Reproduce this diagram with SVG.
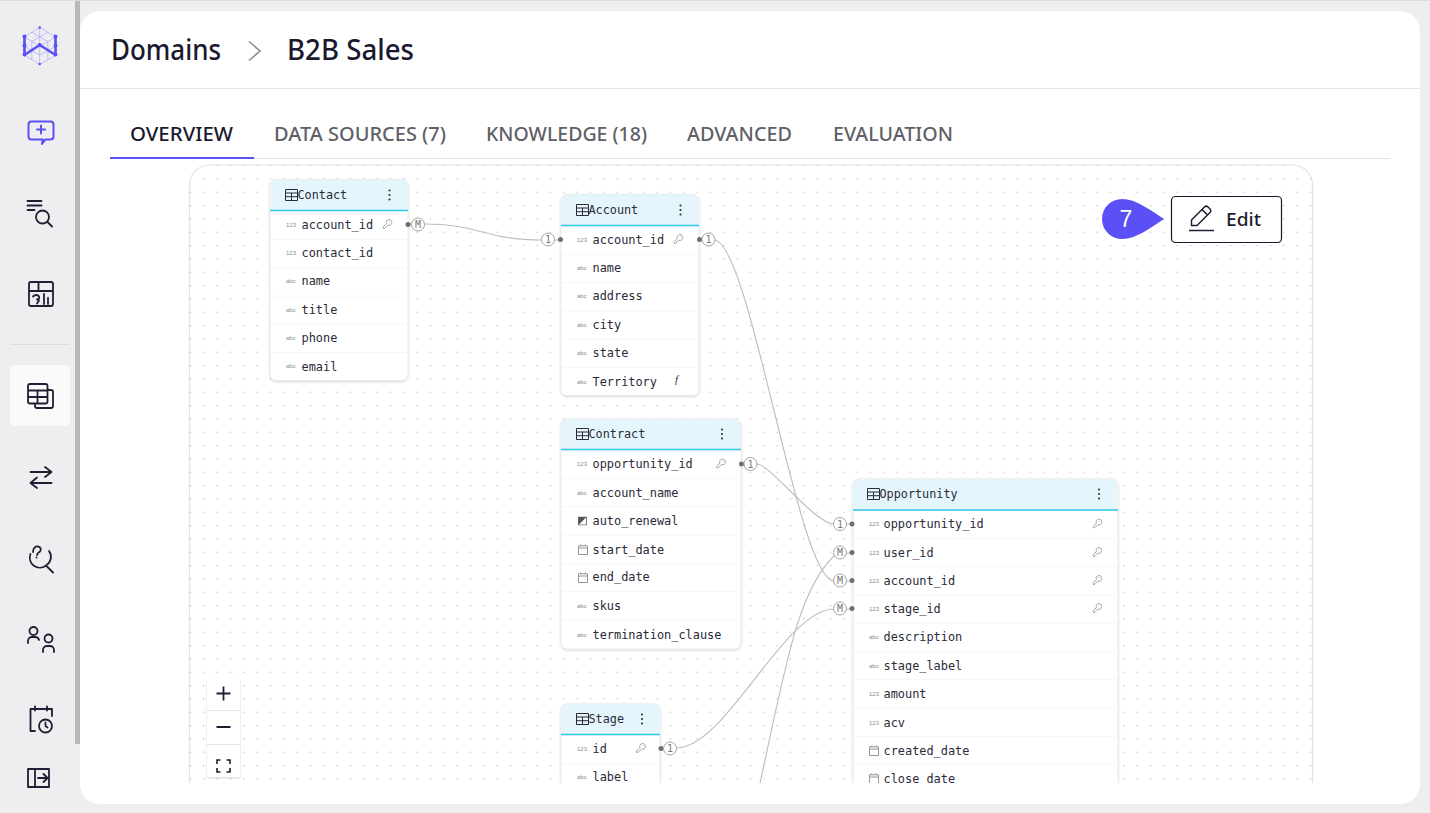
<svg xmlns="http://www.w3.org/2000/svg" xmlns:xlink="http://www.w3.org/1999/xlink" width="1430" height="813" viewBox="0 0 1430 813">
<style>
.h1{font-family:"Noto Sans","Liberation Sans",sans-serif;font-size:28px;font-weight:500;fill:#1a1a2e}
.tab{font-family:"Noto Sans","Liberation Sans",sans-serif;font-size:20px;font-weight:500;fill:#5f5f68}
.ttl{font-family:"DejaVu Sans Mono","Liberation Mono",monospace;font-size:11.8px;fill:#2a2a38}
.row{font-family:"DejaVu Sans Mono","Liberation Mono",monospace;font-size:11.9px;fill:#2a2a38}
.ty{font-family:"Liberation Sans",sans-serif;font-size:6px;fill:#8a8a8a}
.card{fill:#fff;stroke:#e8e8e8;filter:url(#sh)}
.head{fill:#e4f6fc}
.hl{stroke:#2cc6e8;stroke-width:1.500}
.div{stroke:#f6f6f6}
.ic{fill:none;stroke:#1f1f33;stroke-width:1.800;stroke-linecap:round;stroke-linejoin:round}
.pu{fill:none;stroke:#5b50f6;stroke-width:2;stroke-linecap:round;stroke-linejoin:round}
.conn{fill:none;stroke:#bdbdbd;stroke-width:1.100}
.cir{fill:#fff;stroke:#9a9a9a;stroke-width:.9}
.lab{font-family:"DejaVu Sans Mono","Liberation Mono",monospace;font-size:10px;fill:#777;text-anchor:middle}
.dot{fill:#6f6f6f}
</style>
<defs>
<pattern id="dots" x="190" y="165" width="13.333" height="13.333" patternUnits="userSpaceOnUse"><rect x="0" y="0" width="1" height="1" fill="#a0a0a0"/></pattern>
<filter id="sh" x="-10%" y="-10%" width="120%" height="120%"><feDropShadow dx="0" dy="1" stdDeviation="1.200" flood-color="#000" flood-opacity=".16"/></filter>
<clipPath id="cv"><rect x="189" y="165" width="1124" height="618"/></clipPath>
<symbol id="tbl" width="13" height="12" viewBox="0 0 13 12" overflow="visible"><path d="M.5.5h12v11H.5zM.5 4h12M.5 7.700h12M6.500 4v7.500" fill="none" stroke="#2a2a38" stroke-width="1"/></symbol>
<symbol id="keb" width="4" height="12" viewBox="0 0 4 12"><circle cx="2" cy="1.500" r="1.100" fill="#333"/><circle cx="2" cy="6" r="1.100" fill="#333"/><circle cx="2" cy="10.500" r="1.100" fill="#333"/></symbol>
<symbol id="key" width="10" height="10" viewBox="0 0 10 10"><path d="M.6 7.900L.6 9.400 2.100 9.400 5.400 6.100A2.900 2.900 0 1 0 3.900 4.600zM6.800 2.500h.6" fill="none" stroke="#9a9a9a" stroke-width=".9"/></symbol>
<symbol id="cal" width="10" height="11" viewBox="0 0 10 11"><path d="M.5 1.800h9v8.700h-9zM.5 4h9M2.700.5v1.500M7.300.5v1.500" fill="none" stroke="#8a8a8a" stroke-width=".9"/></symbol>
<symbol id="bool" width="9" height="9" viewBox="0 0 9 9"><rect x=".5" y=".5" width="8" height="8" fill="#fff" stroke="#777"/><path d="M.5.5h8l-8 8z" fill="#555"/></symbol>
</defs>

<rect width="1430" height="813" fill="#eeeef1"/>
<rect width="1430" height="1" fill="#dcdcdf"/>
<rect x="75" y="1" width="5" height="743" fill="#b9b9b9"/>
<rect x="80" y="11" width="1340" height="793" rx="20" fill="#fff"/>

<g id="sidebar">
<g id="logo" fill="none">
<path d="M39.700 27.500L56 37v18l-16.300 9.500L24 55V37zM24 37l32 18M56 37L24 55M39.700 27.500v37M31.800 32.200l16 9.300v18M47.800 32.200l-16 9.300v18M24 46l15.700 9M56 46l-16.300 9" stroke="#b3aefa" stroke-width=".8"/>
<path d="M24.500 36v19l7.500-5 7.700-5 8 5 7.800 5V36" stroke="#5b50f6" stroke-width="2.600" stroke-linejoin="round"/>
<g fill="#5b50f6"><circle cx="24.500" cy="36.500" r="2"/><circle cx="24.500" cy="45.500" r="2"/><circle cx="24.500" cy="54.500" r="2"/><circle cx="55.500" cy="36.500" r="2"/><circle cx="55.500" cy="45.500" r="2"/><circle cx="55.500" cy="54.500" r="2"/><circle cx="39.700" cy="45" r="2"/><circle cx="39.700" cy="27.500" r="1.200"/><circle cx="39.700" cy="64" r="1.200"/></g>
</g>
<g id="i-chat"><path class="pu" d="M31.500 121.500h19a3 3 0 0 1 3 3v12a3 3 0 0 1-3 3h-5l-3.500 4.500v-.5l1-4h-11.500a3 3 0 0 1-3-3v-12a3 3 0 0 1 3-3zM41 125.500v8M37 129.500h8"/></g>
<g id="i-search"><path class="ic" d="M27.500 201h14M27.500 205.500h14M27.500 210h7"/><circle class="ic" cx="42.500" cy="217" r="6.500" stroke-width="2"/><path class="ic" d="M47.500 222l4.500 4.500"/></g>
<g id="i-chart"><path class="ic" d="M31 282h20a2 2 0 0 1 2 2v20a2 2 0 0 1-2 2H31a2 2 0 0 1-2-2v-20a2 2 0 0 1 2-2zM29 291h24M38.500 282v9M33 296.500c2-2 5-2 6 0 1 2-1 3-2 3l2 1-2 3M44 294v10M48 298v6"/></g>
<rect x="10" y="344" width="60" height="1" fill="#dcdce0"/>
<rect x="10" y="365" width="60" height="61" rx="4" fill="#fafafa"/>
<g id="i-tables"><path class="ic" d="M30 384h15.500a2 2 0 0 1 2 2v15.500a2 2 0 0 1-2 2H30a2 2 0 0 1-2-2V386a2 2 0 0 1 2-2zM28 390.500h19.500M28 397h19.500M37.500 390.500v13M47.500 390h3.500a2 2 0 0 1 2 2v14a2 2 0 0 1-2 2H37a2 2 0 0 1-2-2v-2.500"/></g>
<g id="i-swap"><path class="ic" d="M30.500 472h21M45 467l6.500 5-6.500 5M51.500 483h-21M37 477.500l-6.500 5.500 6.500 5"/></g>
<g id="i-ask"><path class="ic" d="M30.500 554a10 10 0 0 0 15.500 11.500 10 10 0 0 0 3-14.500M46 565.500l7 7M33 552c0-4 2.500-6 5-5.500 3 .5 3.500 3.500 2 5-1.500 1-3 2-3 3.500"/><circle cx="36.500" cy="557.500" r="1" fill="#1f1f33"/></g>
<g id="i-people"><circle class="ic" cx="33.500" cy="631" r="4"/><path class="ic" d="M28 643v-2a4 4 0 0 1 4-4h3a4 4 0 0 1 4 3"/><circle class="ic" cx="48.500" cy="638.500" r="4"/><path class="ic" d="M43 652v-2a4 4 0 0 1 4-4h3a4 4 0 0 1 4 4v2"/></g>
<g id="i-cal"><path class="ic" d="M35 731h-4.500v-22h21.500v7M35 706.500v4M47 706.500v4"/><circle class="ic" cx="45.500" cy="726" r="6.500"/><path class="ic" d="M45.500 722.500v3.500l2 1.500"/></g>
<g id="i-collapse"><path class="ic" d="M28 769h21v18H28zM35 769v18M38 778h9M43.500 774l4 4-4 4"/></g>
</g>

<g id="header">
<text class="h1" x="111" y="60" textLength="110" lengthAdjust="spacingAndGlyphs">Domains</text>
<path d="M249 41.500l11 9.500-11 9.500" fill="none" stroke="#8c8c96" stroke-width="1.600"/>
<text class="h1" x="287" y="60" textLength="127" lengthAdjust="spacingAndGlyphs">B2B Sales</text>
<rect x="80" y="88" width="1340" height="1" fill="#e4e4e6"/>
</g>
<g id="tabs">
<text class="tab" x="130" y="141" textLength="103" lengthAdjust="spacingAndGlyphs" style="fill:#1a1a2e">OVERVIEW</text>
<text class="tab" x="274" y="141" textLength="172" lengthAdjust="spacingAndGlyphs">DATA SOURCES (7)</text>
<text class="tab" x="486" y="141" textLength="161" lengthAdjust="spacingAndGlyphs">KNOWLEDGE (18)</text>
<text class="tab" x="687" y="141" textLength="105" lengthAdjust="spacingAndGlyphs">ADVANCED</text>
<text class="tab" x="833" y="141" textLength="120" lengthAdjust="spacingAndGlyphs">EVALUATION</text>
<rect x="110" y="158" width="1280" height="1" fill="#e2e2e4"/>
<rect x="110" y="157" width="144" height="2" fill="#5b50f6"/>
</g>

<g id="canvas">
<rect x="189" y="165" width="1124" height="640" rx="20" fill="url(#dots)" clip-path="url(#cv)"/>
<path d="M189.500 783V185a20 20 0 0 1 20-20h1083a20 20 0 0 1 20 20v598" fill="none" stroke="#e2e2e2" stroke-width="1.200"/>
</g>

<g id="connectors" clip-path="url(#cv)">
<path class="conn" d="M424 224C480 224 485 240 542 240"/>
<path class="conn" d="M714 240C750 240 798 581 834 581"/>
<path class="conn" d="M757 464C770 464 815 524 834 524"/>
<path class="conn" d="M677 748C725 748 785 609 834 609"/>
<path class="conn" d="M757 797C785 670 797 590 835 555"/>
<path class="conn" d="M408 224h4M554 240h6M700 240h3M742 464h4M661 748h4M846 524h6M846 553h6M846 581h6M846 609h6"/>
</g>

<g id="node-contact">
<rect class="card" x="270" y="179.500" width="138" height="201" rx="6"/>
<path class="head" d="M270.500 210v-24.500a6 6 0 0 1 6-6h125.500a6 6 0 0 1 6 6V210z"/>
<path class="hl" d="M270 210.500h138"/>
<path class="div" d="M271 239.500h136M271 267.500h136M271 296h136M271 324h136M271 352.500h136"/>
<use xlink:href="#tbl" href="#tbl" x="285" y="189"/><text class="ttl" x="297.500" y="199">Contact</text><use xlink:href="#keb" href="#keb" x="387.500" y="189"/>
<text class="ty" x="286" y="227">123</text><text class="row" x="301.500" y="229">account_id</text><use xlink:href="#key" href="#key" x="382.500" y="219"/>
<text class="ty" x="286" y="255">123</text><text class="row" x="301.500" y="257">contact_id</text>
<text class="ty" x="286" y="283">abc</text><text class="row" x="301.500" y="285">name</text>
<text class="ty" x="286" y="312">abc</text><text class="row" x="301.500" y="314">title</text>
<text class="ty" x="286" y="340">abc</text><text class="row" x="301.500" y="342">phone</text>
<text class="ty" x="286" y="368">abc</text><text class="row" x="301.500" y="371">email</text>
</g>

<g id="node-account">
<rect class="card" x="561" y="194.500" width="138" height="201" rx="6"/>
<path class="head" d="M561.500 225v-24.500a6 6 0 0 1 6-6H692.500a6 6 0 0 1 6 6V225z"/>
<path class="hl" d="M561 225.500h138"/>
<path class="div" d="M562 254.500h136M562 282.500h136M562 311h136M562 339h136M562 367.500h136"/>
<use xlink:href="#tbl" href="#tbl" x="576" y="204"/><text class="ttl" x="588.500" y="214">Account</text><use xlink:href="#keb" href="#keb" x="678.500" y="204"/>
<text class="ty" x="577" y="242">123</text><text class="row" x="592.500" y="244">account_id</text><use xlink:href="#key" href="#key" x="673.500" y="234"/>
<text class="ty" x="577" y="270">abc</text><text class="row" x="592.500" y="272">name</text>
<text class="ty" x="577" y="298">abc</text><text class="row" x="592.500" y="300">address</text>
<text class="ty" x="577" y="327">abc</text><text class="row" x="592.500" y="329">city</text>
<text class="ty" x="577" y="355">abc</text><text class="row" x="592.500" y="357">state</text>
<text class="ty" x="577" y="384">abc</text><text class="row" x="592.500" y="386">Territory</text>
<text x="675" y="383" font-family="Liberation Serif,serif" font-style="italic" font-size="11" fill="#333">f</text>
</g>

<g id="node-contract">
<rect class="card" x="561" y="419" width="180" height="230" rx="6"/>
<path class="head" d="M561.500 449v-24a6 6 0 0 1 6-6H734.500a6 6 0 0 1 6 6V449z"/>
<path class="hl" d="M561 449.500h180"/>
<path class="div" d="M562 478.500h178M562 506.500h178M562 535h178M562 563.500h178M562 591.500h178M562 620h178"/>
<use xlink:href="#tbl" href="#tbl" x="576" y="428"/><text class="ttl" x="588.500" y="438">Contract</text><use xlink:href="#keb" href="#keb" x="720" y="428"/>
<text class="ty" x="577" y="466">123</text><text class="row" x="592.500" y="468">opportunity_id</text><use xlink:href="#key" href="#key" x="716" y="458.500"/>
<text class="ty" x="577" y="495">abc</text><text class="row" x="592.500" y="497">account_name</text>
<use xlink:href="#bool" href="#bool" x="578" y="516.500"/><text class="row" x="592.500" y="525">auto_renewal</text>
<use xlink:href="#cal" href="#cal" x="578" y="544"/><text class="row" x="592.500" y="554">start_date</text>
<use xlink:href="#cal" href="#cal" x="578" y="572"/><text class="row" x="592.500" y="581">end_date</text>
<text class="ty" x="577" y="608">abc</text><text class="row" x="592.500" y="610">skus</text>
<text class="ty" x="577" y="637">abc</text><text class="row" x="592.500" y="639">termination_clause</text>
</g>

<g id="node-stage" clip-path="url(#cv)">
<rect class="card" x="561" y="704" width="99" height="120" rx="6"/>
<path class="head" d="M561.500 734v-24a6 6 0 0 1 6-6H653.500a6 6 0 0 1 6 6V734z"/>
<path class="hl" d="M561 734.500h99"/>
<path class="div" d="M562 763.500h97"/>
<use xlink:href="#tbl" href="#tbl" x="576" y="713"/><text class="ttl" x="588.500" y="723">Stage</text><use xlink:href="#keb" href="#keb" x="640" y="713"/>
<text class="ty" x="577" y="751">123</text><text class="row" x="592.500" y="753">id</text><use xlink:href="#key" href="#key" x="636" y="743"/>
<text class="ty" x="577" y="779">abc</text><text class="row" x="592.500" y="781">label</text>
</g>

<g id="node-opportunity" clip-path="url(#cv)">
<rect class="card" x="853" y="479" width="265" height="340" rx="6"/>
<path class="head" d="M853.500 509.500v-24.500a6 6 0 0 1 6-6H1111.500a6 6 0 0 1 6 6V509.500z"/>
<path class="hl" d="M853 510h265"/>
<path class="div" d="M854 538.500h263M854 566.500h263M854 595h263M854 623h263M854 651.500h263M854 679.500h263M854 708.500h263M854 736.500h263M854 764.500h263"/>
<use xlink:href="#tbl" href="#tbl" x="867" y="488"/><text class="ttl" x="879.500" y="498">Opportunity</text><use xlink:href="#keb" href="#keb" x="1097" y="488"/>
<text class="ty" x="869" y="526">123</text><text class="row" x="883.500" y="528">opportunity_id</text><use xlink:href="#key" href="#key" x="1092.500" y="518.500"/>
<text class="ty" x="869" y="555">123</text><text class="row" x="883.500" y="557">user_id</text><use xlink:href="#key" href="#key" x="1092.500" y="547"/>
<text class="ty" x="869" y="583">123</text><text class="row" x="883.500" y="585">account_id</text><use xlink:href="#key" href="#key" x="1092.500" y="575"/>
<text class="ty" x="869" y="611">123</text><text class="row" x="883.500" y="613">stage_id</text><use xlink:href="#key" href="#key" x="1092.500" y="603"/>
<text class="ty" x="869" y="639">abc</text><text class="row" x="883.500" y="641">description</text>
<text class="ty" x="869" y="668">abc</text><text class="row" x="883.500" y="670">stage_label</text>
<text class="ty" x="869" y="696">123</text><text class="row" x="883.500" y="698">amount</text>
<text class="ty" x="869" y="725">123</text><text class="row" x="883.500" y="727">acv</text>
<use xlink:href="#cal" href="#cal" x="869" y="745"/><text class="row" x="883.500" y="755">created_date</text>
<use xlink:href="#cal" href="#cal" x="869" y="773"/><text class="row" x="883.500" y="783">close_date</text>
</g>

<g id="ends">
<g><circle class="dot" cx="408" cy="224.500" r="2.500"/><circle class="cir" cx="418" cy="224.500" r="6.500"/><text class="lab" x="418" y="228">M</text></g>
<g><circle class="dot" cx="560.500" cy="239.500" r="2.500"/><circle class="cir" cx="548" cy="239.500" r="6.500"/><text class="lab" x="548" y="243">1</text></g>
<g><circle class="dot" cx="699.500" cy="239.500" r="2.500"/><circle class="cir" cx="708.500" cy="239.500" r="6.500"/><text class="lab" x="708.500" y="243">1</text></g>
<g><circle class="dot" cx="741.500" cy="464" r="2.500"/><circle class="cir" cx="750.500" cy="464" r="6.500"/><text class="lab" x="750.500" y="467.500">1</text></g>
<g><circle class="dot" cx="661" cy="748.500" r="2.500"/><circle class="cir" cx="670" cy="748.500" r="6.500"/><text class="lab" x="670" y="752">1</text></g>
<g><circle class="dot" cx="852" cy="524" r="2.500"/><circle class="cir" cx="840" cy="524" r="6.500"/><text class="lab" x="840" y="527.500">1</text></g>
<g><circle class="dot" cx="852" cy="552.500" r="2.500"/><circle class="cir" cx="840" cy="552.500" r="6.500"/><text class="lab" x="840" y="556">M</text></g>
<g><circle class="dot" cx="852" cy="580.500" r="2.500"/><circle class="cir" cx="840" cy="580.500" r="6.500"/><text class="lab" x="840" y="584">M</text></g>
<g><circle class="dot" cx="852" cy="608.500" r="2.500"/><circle class="cir" cx="840" cy="608.500" r="6.500"/><text class="lab" x="840" y="612">M</text></g>
</g>

<g id="zoom-controls">
<rect x="207" y="678" width="33" height="99" fill="#fff" filter="url(#sh)"/>
<path d="M207 710.500h33M207 744.500h33" stroke="#e6e6e6"/>
<path d="M216.500 693.500h14M223.500 686.500v14M216.500 727h14" fill="none" stroke="#1f1f33" stroke-width="1.800"/>
<path d="M217 764v-4h3.500M230 764v-4h-3.500M217 768v4h3.500M230 768v4h-3.500" fill="none" stroke="#1f1f33" stroke-width="1.600"/>
</g>

<g id="badge">
<path d="M1122 199c14 0 28 11 42 20-14 9-28 20-42 20a20 20 0 0 1 0-40z" fill="#5b50f6"/>
<text x="1126" y="227" font-family="Liberation Sans,sans-serif" font-size="23" fill="#fff" text-anchor="middle">7</text>
</g>
<g id="edit">
<rect x="1171.500" y="196.500" width="110" height="46" rx="4" fill="#fff" stroke="#1a1a2e" stroke-width="1.200"/>
<path d="M1189 230.500h25M1191.500 225.500v-5.500l13-13c1-1 2.500-1 3.500 0l2 2c1 1 1 2.500 0 3.500l-13 13zM1202 209.500l6 6" fill="none" stroke="#1f1f33" stroke-width="1.500" stroke-linejoin="round"/>
<text x="1226" y="226" font-family="Noto Sans,Liberation Sans,sans-serif" font-size="18" font-weight="500" fill="#1f1f33" textLength="35" lengthAdjust="spacingAndGlyphs">Edit</text>
</g>
</svg>
